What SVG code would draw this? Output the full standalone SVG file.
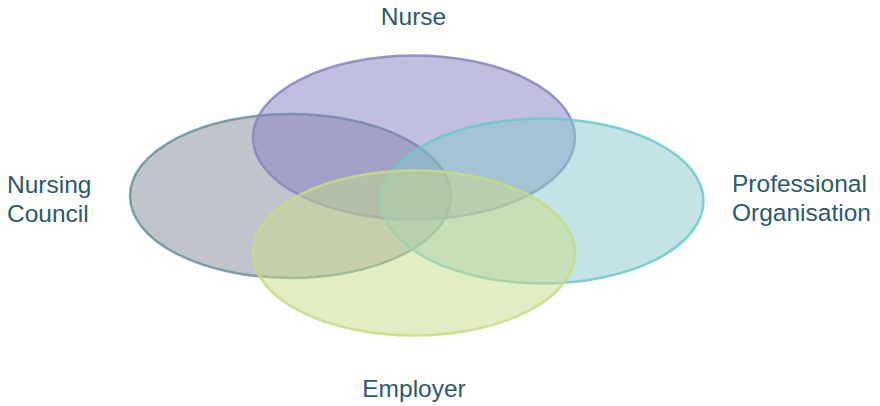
<svg xmlns="http://www.w3.org/2000/svg" width="880" height="406" viewBox="0 0 880 406">
<style>
.set{stroke-width:2.5;fill-opacity:0.5;stroke-opacity:0.85}
.lbl{font-family:"Liberation Sans",Arial,sans-serif;font-size:24.5px;fill:#2b5a6c}
</style>
<rect width="880" height="406" fill="#ffffff"/>
<g id="nursing-council">
<ellipse class="set" cx="290.5" cy="196" rx="160.5" ry="82" fill="#818b99" stroke="#6f919b"/>
<text class="lbl" x="7" y="193">Nursing</text>
<text class="lbl" x="7" y="222">Council</text>
</g>
<g id="nurse">
<ellipse class="set" cx="414" cy="137.5" rx="161" ry="82" fill="#8180bf" stroke="#8585c0"/>
<text class="lbl" x="413.5" y="25" text-anchor="middle">Nurse</text>
</g>
<g id="professional-organisation">
<ellipse class="set" cx="542.5" cy="201" rx="161" ry="82.5" fill="#87c7cb" stroke="#6cc8cb"/>
<text class="lbl" x="732" y="192">Professional</text>
<text class="lbl" x="732" y="221">Organisation</text>
</g>
<g id="employer">
<ellipse class="set" cx="414" cy="253" rx="161" ry="82.5" fill="#c7db89" stroke="#c6dc85"/>
<text class="lbl" x="414" y="397" text-anchor="middle">Employer</text>
</g>
<g id="connectors"></g>
</svg>
